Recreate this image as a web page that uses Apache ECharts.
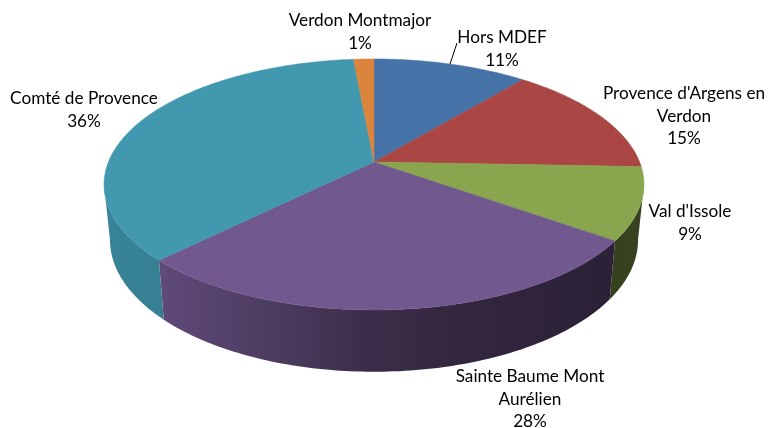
<!DOCTYPE html>
<html><head><meta charset="utf-8">
<style>html,body{margin:0;padding:0;background:#fff}#c{width:769px;height:428px}</style>
<script src="https://cdn.jsdelivr.net/npm/echarts@6/dist/echarts.min.js"></script>
</head><body><div id="c"></div>
<script>
// Data (share of the pie, in percent; slightly finer than the rounded labels)
const categories = ["Hors MDEF", "Provence d'Argens en\nVerdon", "Val d'Issole", "Sainte Baume Mont\nAurélien", "Comté de Provence", "Verdon Montmajor"];
const values = [11, 14.6, 9.3, 27.6, 36.05, 1.45];
const topColors = ["#4572A7", "#AA4643", "#89A54E", "#71588F", "#4198AF", "#DB843D"];

// Layout (not data)
const labelCentres = [[502, 49], [684, 116], [690, 223], [530, 399], [84, 110], [360, 32]];
const P = {cx: 374, cy: 162, a: 265.6, b: 121.5, k: 0.179, ey: 184.5, bottomEy: 240, sx: 0.978, sy: 1.05};
const FONT = '17.2px Lato, sans-serif';

function topPoint(frac) {
  const t = frac * 2 * Math.PI, u = Math.sin(t), v = Math.cos(t), d = 1 + P.k * v;
  return [P.cx + P.a * u / d, P.cy - P.b * v / d];
}
function bottomPoint(frac) {
  const p = topPoint(frac);
  return [P.cx + P.sx * (p[0] - P.cx), P.bottomEy + P.sy * (p[1] - P.ey)];
}
function arc(fn, from, to) {
  const n = Math.max(2, Math.ceil((to - from) * 360)), pts = [];
  for (let i = 0; i <= n; i++) pts.push(fn(from + (to - from) * i / n));
  return pts;
}
function shade(hex, f) {
  const n = parseInt(hex.slice(1), 16);
  return 'rgb(' + [(n >> 16) & 255, (n >> 8) & 255, n & 255].map(c => Math.round(c * f)).join(',') + ')';
}
const total = values.reduce((a, b) => a + b, 0);
let acc = 0;
const rows = values.map((v, i) => { const r = [acc / total, (acc + v) / total, i]; acc += v; return r; });

// The wall is visible only between the right and left extremes of the disc
const frontStart = Math.acos(-P.k) / (2 * Math.PI), frontEnd = 1 - frontStart;

// horizontal light falloff on the pie's wall
const lightStops = [[104, .86], [160, .84], [270, .68], [370, .51], [480, .43], [600, .39], [644, .40]];
function wallFill(color) {
  return new echarts.graphic.LinearGradient(104, 0, 644, 0,
    lightStops.map(s => ({offset: (s[0] - 104) / 540, color: shade(color, s[1])})), true);
}

const option = {
  animation: false,
  backgroundColor: '#fff',
  series: [
    { type: 'custom', coordinateSystem: 'none', silent: true, data: rows,
      renderItem(params, api) {
        const a = Math.max(api.value(0), frontStart), b = Math.min(api.value(1), frontEnd);
        if (b <= a) return null;
        const col = topColors[api.value(2)];
        const pts = arc(topPoint, a, b).concat(arc(bottomPoint, a, b).reverse());
        return {type: 'polygon', shape: {points: pts}, style: {fill: wallFill(col)}};
      }},
    { type: 'custom', coordinateSystem: 'none', silent: true, data: rows,
      renderItem(params, api) {
        const a = api.value(0), b = api.value(1), col = topColors[api.value(2)];
        const pts = [[P.cx, P.cy]].concat(arc(topPoint, a, b));
        return {type: 'polygon', shape: {points: pts}, style: {fill: col, stroke: col, lineWidth: .5}};
      }},
    { type: 'custom', coordinateSystem: 'none', silent: true, data: rows,
      renderItem(params, api) {
        const i = api.value(2), c = labelCentres[i];
        const children = [{type: 'text', style: {
          text: categories[i] + '\n' + Math.round(values[i] / total * 100) + '%',
          x: c[0], y: c[1], align: 'center', verticalAlign: 'middle',
          font: FONT, lineHeight: 22.5, fill: '#000'}}];
        if (i === 0) children.push({type: 'line', shape: {x1: 450, y1: 64, x2: 457, y2: 43},
          style: {stroke: '#000', lineWidth: 1}});
        return {type: 'group', children};
      }}
  ]
};
echarts.init(document.getElementById('c'), null, {renderer: 'canvas'}).setOption(option);
</script></body></html>
